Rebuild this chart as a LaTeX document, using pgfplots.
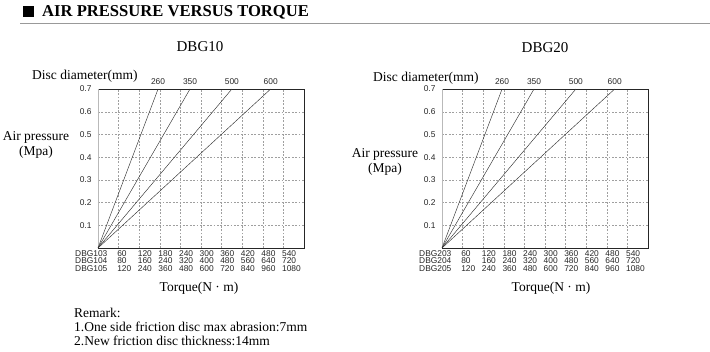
\documentclass[border=0pt]{standalone}
\usepackage{fontspec}
\setmainfont{Liberation Serif}
\newfontfamily\arial{Liberation Sans}
\usepackage{pgfplots}
\pgfplotsset{compat=1.18}
\pgfplotsset{
  myax/.style={
    scale only axis, width=206pt, height=159pt,
    anchor=south west,
    xmin=0, xmax=600, ymin=0, ymax=0.7,
    clip=false,
    axis line style={draw=none},
    xtick={60,120,180,240,300,360,420,480,540},
    ytick={0.1,0.2,0.3,0.4,0.5,0.6,0.7},
    yticklabels={0.1,0.2,0.3,0.4,0.5,0.6,0.7},
    major tick length=0pt,
    grid=major,
    major grid style={gray!75, dash pattern=on 1.8pt off 1.6pt, line width=0.4pt},
    tick label style={font=\arial\fontsize{8.4}{7.6}\selectfont, text=black!85},
    yticklabel style={xshift=-3pt},
    xticklabel style={align=left, anchor=north west, xshift=-3.5pt, inner sep=2pt},
  },
}
\tikzset{
  dline/.style={black!80, line width=0.45pt},
  dlab/.style={font=\arial\fontsize{8.4}{8}\selectfont, anchor=south, inner sep=0pt, yshift=4pt, text=black!85},
}
\begin{document}
\begin{tikzpicture}
\path[use as bounding box] (0pt,0pt) rectangle (710pt,-352pt);
% header
\fill[black] (23pt,-6pt) rectangle (34pt,-17pt);
\node[anchor=base west, inner sep=0pt, font=\fontsize{16.6}{18}\selectfont\bfseries] at (42pt,-17pt) {AIR PRESSURE VERSUS TORQUE};
\draw[gray!80, line width=1.6pt] (20pt,-23.5pt) -- (710pt,-23.5pt);
% chart titles
\node[anchor=base, inner sep=0pt, font=\fontsize{15}{17}\selectfont] at (200pt,-52pt) {DBG10};
\node[anchor=base, inner sep=0pt, font=\fontsize{15}{17}\selectfont] at (545pt,-53pt) {DBG20};
% left chart labels
\node[anchor=base west, inner sep=0pt, font=\fontsize{13.5}{15}\selectfont] at (32pt,-80pt) {Disc diameter(mm)};
\node[anchor=base, inner sep=0pt, font=\fontsize{13.5}{15}\selectfont] at (36pt,-141pt) {Air pressure};
\node[anchor=base, inner sep=0pt, font=\fontsize{13.5}{15}\selectfont] at (36pt,-156pt) {(Mpa)};
\node[anchor=base, inner sep=0pt, font=\fontsize{13.5}{15}\selectfont] at (199pt,-292pt) {Torque(N · m)};
% right chart labels
\node[anchor=base west, inner sep=0pt, font=\fontsize{13.5}{15}\selectfont] at (373pt,-82pt) {Disc diameter(mm)};
\node[anchor=base, inner sep=0pt, font=\fontsize{13.5}{15}\selectfont] at (385pt,-158pt) {Air pressure};
\node[anchor=base, inner sep=0pt, font=\fontsize{13.5}{15}\selectfont] at (385pt,-173pt) {(Mpa)};
\node[anchor=base, inner sep=0pt, font=\fontsize{13.5}{15}\selectfont] at (551pt,-292pt) {Torque(N · m)};
% remarks
\node[anchor=base west, inner sep=0pt, font=\fontsize{13.5}{15}\selectfont] at (74pt,-318pt) {Remark:};
\node[anchor=base west, inner sep=0pt, font=\fontsize{13.5}{15}\selectfont] at (74pt,-332pt) {1.One side friction disc max abrasion:7mm};
\node[anchor=base west, inner sep=0pt, font=\fontsize{13.5}{15}\selectfont] at (74pt,-346pt) {2.New friction disc thickness:14mm};

% ---------- DBG10 ----------
\begin{axis}[myax, at={(98pt,-248pt)},
  xticklabels={{60\\80\\120},{120\\160\\240},{180\\240\\360},{240\\320\\480},{300\\400\\600},{360\\480\\720},{420\\560\\840},{480\\640\\960},{540\\720\\1080}}]
  \draw[black!85, line width=0.6pt] (axis cs:0,0) -- (axis cs:600,0) -- (axis cs:600,0.7) -- (axis cs:0,0.7);
  \draw[gray!55, line width=0.5pt] (axis cs:0,0) -- (axis cs:0,0.7);
  \addplot[dline] coordinates {(0,0) (175,0.7)};
  \addplot[dline] coordinates {(0,0) (268,0.7)};
  \addplot[dline] coordinates {(0,0) (390,0.7)};
  \addplot[dline] coordinates {(0,0) (503,0.7)};
  \node[dlab] at (axis cs:175,0.7) {260};
  \node[dlab] at (axis cs:268,0.7) {350};
  \node[dlab] at (axis cs:390,0.7) {500};
  \node[dlab] at (axis cs:503,0.7) {600};
  \node[anchor=north west, align=left, inner sep=2pt, xshift=-25pt, font=\arial\fontsize{8.4}{7.6}\selectfont, text=black!85] at (axis cs:0,0) {DBG103\\DBG104\\DBG105};
\end{axis}

% ---------- DBG20 ----------
\begin{axis}[myax, at={(442pt,-248pt)},
  xticklabels={{60\\80\\120},{120\\160\\240},{180\\240\\360},{240\\320\\480},{300\\400\\600},{360\\480\\720},{420\\560\\840},{480\\640\\960},{540\\720\\1080}}]
  \draw[black!85, line width=0.6pt] (axis cs:0,0) -- (axis cs:600,0) -- (axis cs:600,0.7) -- (axis cs:0,0.7);
  \draw[gray!55, line width=0.5pt] (axis cs:0,0) -- (axis cs:0,0.7);
  \addplot[dline] coordinates {(0,0) (175,0.7)};
  \addplot[dline] coordinates {(0,0) (268,0.7)};
  \addplot[dline] coordinates {(0,0) (390,0.7)};
  \addplot[dline] coordinates {(0,0) (503,0.7)};
  \node[dlab] at (axis cs:175,0.7) {260};
  \node[dlab] at (axis cs:268,0.7) {350};
  \node[dlab] at (axis cs:390,0.7) {500};
  \node[dlab] at (axis cs:503,0.7) {600};
  \node[anchor=north west, align=left, inner sep=2pt, xshift=-25pt, font=\arial\fontsize{8.4}{7.6}\selectfont, text=black!85] at (axis cs:0,0) {DBG203\\DBG204\\DBG205};
\end{axis}
\end{tikzpicture}
\end{document}
